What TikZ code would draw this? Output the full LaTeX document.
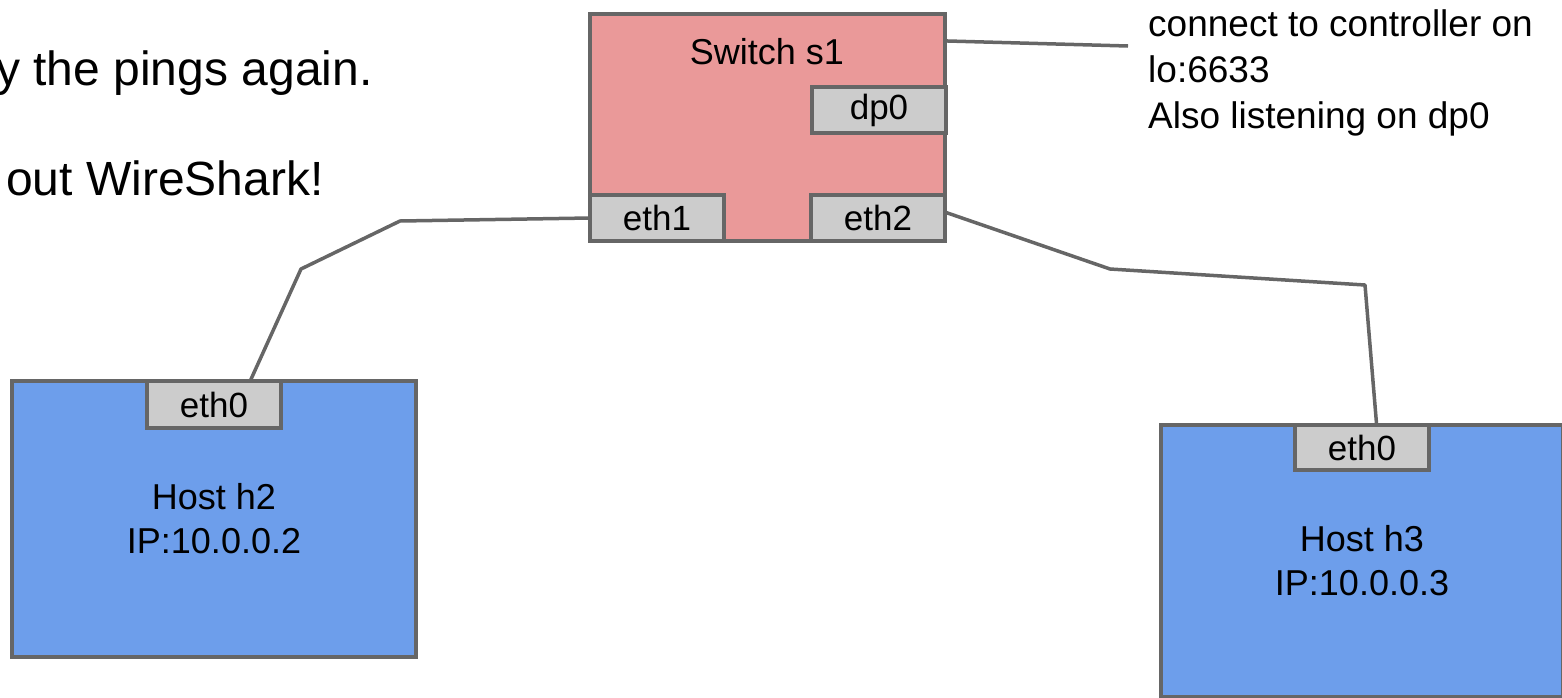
\documentclass[tikz,border=0pt]{standalone}
\usepackage{fontspec}
\setmainfont{Liberation Sans}
\usepackage{tikz}
\usetikzlibrary{positioning}
\definecolor{swred}{HTML}{EA9999}
\definecolor{hostblue}{HTML}{6D9EEB}
\definecolor{portgray}{HTML}{CCCCCC}
\definecolor{edgegray}{HTML}{666666}

\begin{document}
\begin{tikzpicture}[
    x=1pt, y=-1pt,
    box/.style={draw=edgegray, line width=3.5pt, fill=#1, inner sep=0pt, outer sep=0pt,
        align=center, font=\fontsize{36}{44}\selectfont},
    port/.style={draw=edgegray, line width=3.5pt, fill=portgray, inner sep=0pt, outer sep=0pt,
        minimum width=134pt, minimum height=46pt, font=\fontsize{35}{40}\selectfont},
    link/.style={draw=edgegray, line width=3.5pt, line join=round}
]
\useasboundingbox (0,0) rectangle (1562,697);
\clip (0,0) rectangle (1562,697);

% Slide text
\node[anchor=base west, inner sep=0pt, font=\fontsize{48}{56}\selectfont] (try) at (-4,85) {y the pings again.};
\node[anchor=base west, inner sep=0pt, font=\fontsize{48}{56}\selectfont] (wire) at (6,195) {out WireShark!};

% Switch
\node[box=swred, minimum width=355pt, minimum height=227pt] (s1) at (767.5,127.5) {};
\node[font=\fontsize{36}{44}\selectfont] (s1name) at (767,52) {Switch s1};
\node[port] (s1dp0) at (879,110) {dp0};
\node[port, anchor=south west] (s1eth1) at (s1.south west) {eth1};
\node[port, anchor=south east] (s1eth2) at (s1.south east) {eth2};

% Hosts
\node[box=hostblue, minimum width=404pt, minimum height=276pt] (h2) at (214,519) {Host h2\\IP:10.0.0.2};
\node[port, anchor=north, minimum height=47pt] (h2eth0) at (h2.north) {eth0};
\node[box=hostblue, minimum width=402pt, minimum height=272pt] (h3) at (1362,561) {Host h3\\IP:10.0.0.3};
\node[port, anchor=north, minimum height=45pt] (h3eth0) at (h3.north) {eth0};

% Controller note
\coordinate (noteend) at (1128,46);
\node[anchor=base west, inner sep=0pt, align=left, font=\fontsize{37}{46}\selectfont] (note) at (1148,128)
    {connect to controller on\\lo:6633\\Also listening on dp0};

% Links
\draw[link] (s1eth1.west) -- (400,221) -- (301,269) -- (h2eth0.33);
\draw[link] (s1eth2.5) -- (1110,269) -- (1365,285) -- (h3eth0.57);
\draw[link] (s1.26) -- (noteend);
\end{tikzpicture}
\end{document}
